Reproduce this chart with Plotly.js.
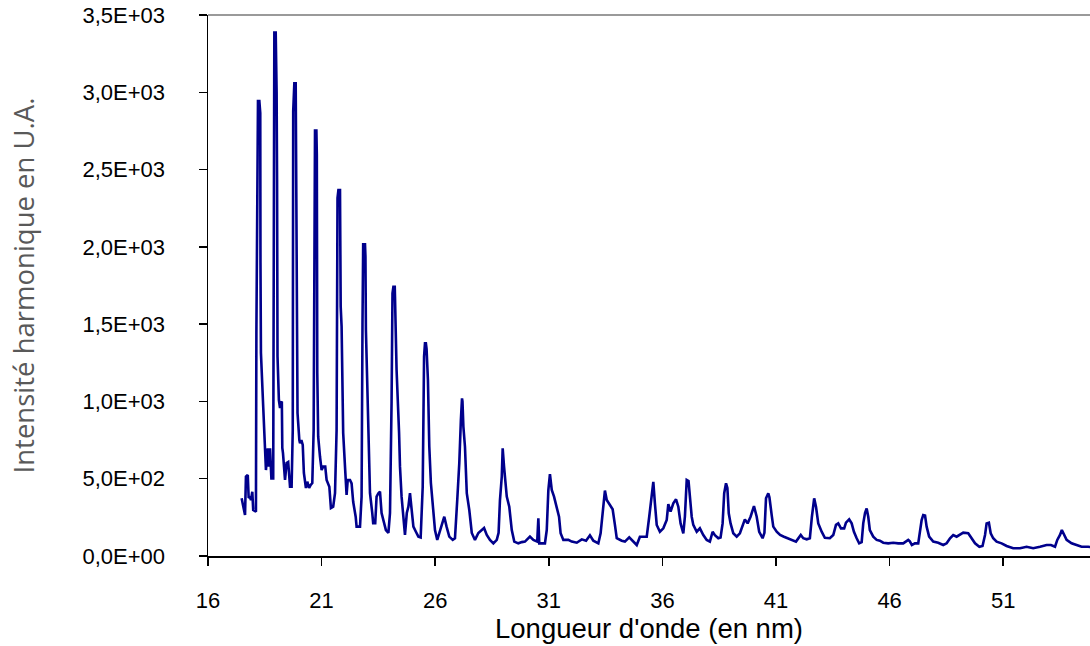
<!DOCTYPE html>
<html>
<head>
<meta charset="utf-8">
<script src="https://cdn.plot.ly/plotly-3.0.1.min.js"></script>
<style>html,body{margin:0;padding:0;background:#fff;}#chart{width:1090px;height:646px;}</style>
</head>
<body>
<div id="chart"></div>
<script>
// Wavelength (nm)
const wavelength = [
  17.48, 17.55, 17.63, 17.67, 17.75, 17.79, 17.85, 17.89, 17.95, 17.99, 18.07, 18.11,
  18.13, 18.17, 18.20, 18.26, 18.30, 18.31, 18.33, 18.43, 18.48, 18.55, 18.63, 18.68, 18.73, 18.79,
  18.87, 18.88, 18.90, 18.92, 18.98, 19.02, 19.04, 19.06, 19.12, 19.17, 19.21, 19.25, 19.27, 19.30,
  19.39, 19.46, 19.53, 19.61, 19.68, 19.73, 19.75, 19.80, 19.86, 19.88, 19.91, 19.94,
  20.02, 20.05, 20.11, 20.17, 20.22, 20.31, 20.37, 20.45, 20.52, 20.59,
  20.65, 20.68, 20.71, 20.77, 20.79, 20.81, 20.85, 20.93, 21.00, 21.07, 21.16, 21.22, 21.28, 21.34, 21.41, 21.51, 21.59,
  21.66, 21.70, 21.74, 21.81, 21.82, 21.84, 21.88, 21.95, 22.03, 22.10, 22.15, 22.25, 22.32, 22.39, 22.50, 22.54, 22.69,
  22.76, 22.80, 22.83, 22.91, 22.93, 22.95, 23.05, 23.13, 23.23, 23.27, 23.36, 23.42, 23.50, 23.57, 23.64, 23.72, 23.83, 23.94,
  24.01, 24.08, 24.12, 24.16, 24.22, 24.23, 24.30, 24.41, 24.45, 24.52, 24.60, 24.67, 24.75, 24.82, 24.89, 24.96, 25.04, 25.15, 25.26, 25.36,
  25.45, 25.51, 25.55, 25.59, 25.62, 25.68, 25.74, 25.81, 25.92, 25.99, 26.09, 26.18, 26.29, 26.40, 26.50, 26.62, 26.77, 26.87,
  26.97, 27.06, 27.13, 27.18, 27.20, 27.24, 27.31, 27.39, 27.50, 27.61, 27.75, 27.90, 28.05, 28.15, 28.27, 28.41, 28.56, 28.71,
  28.79, 28.85, 28.93, 28.97, 29.03, 29.15, 29.26, 29.37, 29.48, 29.66, 29.81, 29.95, 30.17, 30.32, 30.49, 30.54, 30.58, 30.83,
  30.91, 30.98, 31.05, 31.13, 31.23, 31.35, 31.45, 31.52, 31.64, 31.86, 32.01, 32.23, 32.45, 32.64, 32.81, 32.96, 33.18,
  33.28, 33.37, 33.47, 33.55, 33.69, 33.81, 33.91, 33.99, 34.21, 34.35, 34.54, 34.72, 34.87, 35.01, 35.31,
  35.42, 35.53, 35.60, 35.67, 35.75, 35.89, 36.04, 36.19, 36.26, 36.36, 36.48, 36.60, 36.70, 36.80, 36.92,
  36.99, 37.07, 37.15, 37.21, 37.29, 37.36, 37.51, 37.65, 37.80, 37.95, 38.09, 38.21, 38.31, 38.46, 38.56,
  38.65, 38.72, 38.80, 38.86, 38.92, 39.00, 39.12, 39.27, 39.41, 39.53, 39.63, 39.75, 39.88, 40.03, 40.15, 40.26, 40.41,
  40.49, 40.56, 40.66, 40.71, 40.81, 40.88, 41.03, 41.18, 41.35, 41.61, 41.88, 42.09, 42.20, 42.35, 42.49,
  42.58, 42.68, 42.76, 42.86, 43.01, 43.15, 43.37, 43.52, 43.64, 43.74, 43.86, 44.00, 44.08, 44.22, 44.33, 44.43, 44.55, 44.66, 44.77,
  44.84, 44.92, 44.99, 45.06, 45.13, 45.28, 45.43, 45.57, 45.72, 45.94, 46.16, 46.38, 46.60, 46.82, 46.89, 46.98, 47.11, 47.26,
  47.33, 47.41, 47.48, 47.56, 47.63, 47.74, 47.92, 48.14, 48.36, 48.51, 48.66, 48.80, 48.95, 49.10, 49.24, 49.46, 49.61, 49.76, 49.95, 50.09,
  50.20, 50.27, 50.37, 50.45, 50.56, 50.71, 50.93, 51.15, 51.44, 51.74, 52.03, 52.32, 52.62, 52.91, 53.10, 53.28,
  53.38, 53.50, 53.58, 53.69, 53.79, 54.01, 54.23, 54.45, 54.74, 55.00
];

// Harmonic intensity (arbitrary units)
const intensity = [
  373, 319, 265, 513, 524, 375, 384, 362, 416, 298, 290, 287,
  1442, 2607, 2944, 2944, 2866, 1900, 1313, 966, 772, 556, 697, 578, 697, 502,
  502, 925, 3165, 3386, 3386, 3000, 2432, 1290, 1009, 957, 990, 1000, 700, 666,
  492, 601, 608, 448, 448, 815, 2875, 3058, 3058, 2238, 1500, 925,
  750, 730, 750, 718, 537, 440, 481, 440, 460, 472,
  815, 2500, 2752, 2752, 2594, 1184, 772, 642, 556, 578, 578, 492, 470, 448, 310, 319, 406,
  815, 2316, 2368, 2368, 2098, 1613, 1484, 795, 578, 395, 492, 492, 470, 351, 254, 190, 190,
  384, 1500, 2016, 2016, 1937, 1462, 837, 406, 278, 213, 213, 384, 406, 416, 278, 233, 168, 149,
  278, 1000, 1700, 1742, 1742, 1678, 1203, 795, 578, 384, 233, 136, 278, 319, 406, 298, 190, 157, 125, 120,
  448, 1290, 1376, 1376, 1340, 1139, 707, 472, 278, 168, 104, 149, 190, 254, 190, 125, 104, 115,
  362, 601, 880, 1020, 1000, 837, 707, 406, 298, 149, 104, 149, 168, 181, 136, 104, 82, 104,
  150, 362, 513, 697, 578, 384, 319, 168, 93, 82, 90, 93, 125, 104, 93, 244, 82, 82,
  168, 427, 530, 427, 384, 319, 254, 147, 104, 104, 93, 86, 108, 99, 134, 99, 82,
  147, 298, 423, 362, 330, 302, 201, 115, 99, 93, 121, 93, 71, 125, 125,
  254, 406, 479, 341, 201, 157, 179, 233, 336, 287, 341, 367, 319, 211, 147,
  254, 492, 485, 362, 254, 201, 157, 179, 136, 104, 93, 157, 135, 115, 120,
  211, 406, 470, 440, 276, 211, 147, 125, 147, 190, 237, 211, 254, 323, 254, 157, 115,
  150, 373, 406, 380, 265, 190, 157, 136, 125, 108, 93, 136, 115, 108, 115,
  254, 373, 319, 211, 157, 118, 115, 136, 201, 211, 179, 179, 216, 237, 211, 157, 115, 82, 90,
  211, 280, 308, 254, 168, 125, 104, 99, 86, 82, 86, 82, 82, 104, 95, 71, 82, 82,
  147, 233, 265, 262, 190, 125, 93, 86, 71, 82, 115, 136, 125, 136, 151, 147, 115, 82, 60, 65,
  136, 211, 216, 147, 115, 93, 82, 65, 50, 50, 60, 50, 60, 71, 71, 60,
  104, 136, 168, 136, 104, 82, 71, 60, 60, 55
];

// Axis ticks
const xTickVals = [16, 21, 26, 31, 36, 41, 46, 51];
const yTickVals = [0, 500, 1000, 1500, 2000, 2500, 3000, 3500];
const yTickLabels = ['0,0E+00', '5,0E+02', '1,0E+03', '1,5E+03', '2,0E+03', '2,5E+03', '3,0E+03', '3,5E+03'];

const trace = {
  x: wavelength,
  y: intensity,
  type: 'scatter',
  mode: 'lines',
  line: {color: '#00008C', width: 2.6},
  hoverinfo: 'x+y'
};

const tickFont = {family: 'Liberation Sans, Arial, sans-serif', size: 22, color: '#000'};

const layout = {
  width: 1090,
  height: 646,
  margin: {l: 208, r: 0, t: 15, b: 90, pad: 0},
  paper_bgcolor: '#fff',
  plot_bgcolor: '#fff',
  showlegend: false,
  xaxis: {
    range: [16, 54.82],
    tickvals: xTickVals,
    ticktext: xTickVals.map(String),
    ticks: 'outside',
    ticklen: 8,
    tickwidth: 1.5,
    tickcolor: '#000',
    showline: true,
    linecolor: '#000',
    linewidth: 1.5,
    showgrid: false,
    zeroline: false,
    tickfont: tickFont,
    ticklabelstandoff: 16,
    title: {
      text: "Longueur d'onde (en nm)",
      font: {family: 'Liberation Sans, Arial, sans-serif', size: 27.5, color: '#000'},
      standoff: 6
    }
  },
  yaxis: {
    range: [0, 3500],
    tickvals: yTickVals,
    ticktext: yTickLabels,
    ticks: 'outside',
    ticklen: 8,
    tickwidth: 1.5,
    tickcolor: '#000',
    showline: true,
    linecolor: '#000',
    linewidth: 1.5,
    showgrid: false,
    zeroline: false,
    tickfont: tickFont,
    ticklabelstandoff: 29,
    title: {
      text: 'Intensité harmonique en U.A.',
      font: {family: 'Open Sans, Noto Sans, sans-serif', size: 27.5, color: '#595959'},
      standoff: 40
    }
  },
  shapes: [
    {type: 'line', xref: 'paper', yref: 'paper', x0: 0, x1: 1, y0: 1, y1: 1,
     line: {color: '#9a9a9a', width: 2}}
  ]
};

Plotly.newPlot('chart', [trace], layout, {displayModeBar: false, staticPlot: true});
</script>
</body>
</html>
